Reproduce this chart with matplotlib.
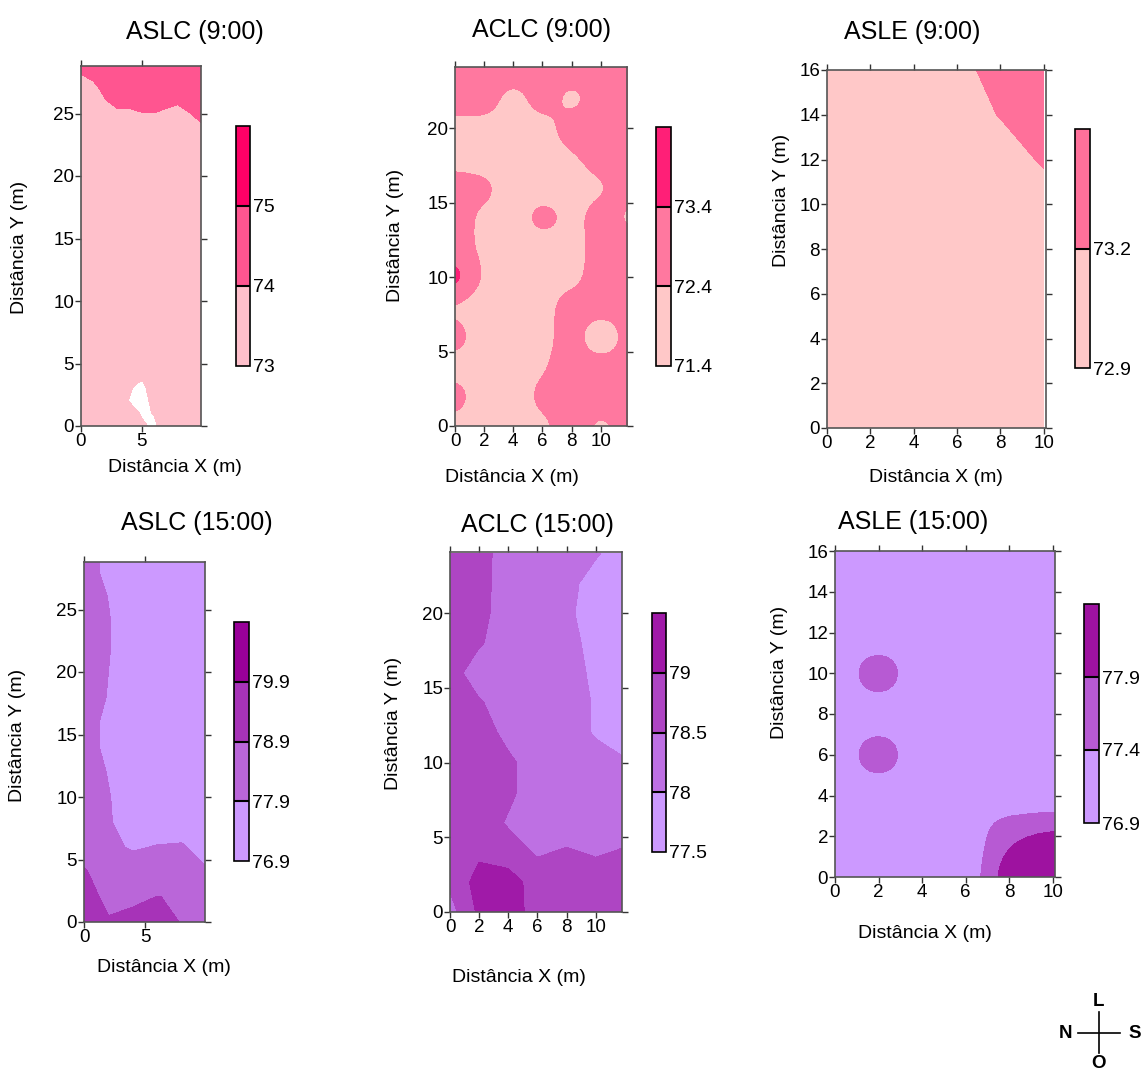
import numpy as np
import matplotlib
matplotlib.use("Agg")
import matplotlib.pyplot as plt
from matplotlib.colors import ListedColormap, BoundaryNorm
from matplotlib.cm import ScalarMappable
from matplotlib.lines import Line2D

plt.rcParams['font.family'] = ['Liberation Sans', 'DejaVu Sans']

# ---------------- data (grid values, rows from top to bottom) ----------------
# ASLC 9:00
aslc9_x = [0, 1, 2, 3, 4, 5, 6, 7, 8, 9, 10]
aslc9_y = [0, 1, 2, 3, 3.5, 4, 10, 20, 23, 24, 25, 26, 27, 28, 29]
aslc9_z = [
    [74.5, 74.5, 74.5, 74.5, 74.5, 74.5, 74.5, 74.5, 74.5, 74.5, 74.5],
    [73.88, 74.33, 74.5, 74.5, 74.5, 74.5, 74.5, 74.5, 74.5, 74.5, 74.5],
    [73.5, 73.5, 74.5, 74.5, 74.5, 74.5, 74.5, 74.5, 74.5, 74.5, 74.5],
    [73.5, 73.5, 73.88, 74.5, 74.5, 74.5, 74.5, 74.5, 74.21, 74.5, 74.5],
    [73.5, 73.5, 73.5, 73.67, 73.67, 73.94, 73.98, 73.67, 73.5, 73.98, 74.5],
    [73.5, 73.5, 73.5, 73.5, 73.5, 73.5, 73.5, 73.5, 73.5, 73.5, 73.88],
    [73.5, 73.5, 73.5, 73.5, 73.5, 73.5, 73.5, 73.5, 73.5, 73.5, 73.5],
    [73.5, 73.5, 73.5, 73.5, 73.5, 73.5, 73.5, 73.5, 73.5, 73.5, 73.5],
    [73.5, 73.5, 73.5, 73.5, 73.5, 73.5, 73.5, 73.5, 73.5, 73.5, 73.5],
    [73.5, 73.5, 73.5, 73.5, 73.5, 73.5, 73.5, 73.5, 73.5, 73.5, 73.5],
    [73.5, 73.5, 73.5, 73.5, 73.3, 72.9, 73.5, 73.5, 73.5, 73.5, 73.5],
    [73.5, 73.5, 73.5, 73.5, 73.1, 72.7, 73.5, 73.5, 73.5, 73.5, 73.5],
    [73.5, 73.5, 73.5, 73.5, 72.95, 72.8, 73.13, 73.5, 73.5, 73.5, 73.5],
    [73.5, 73.5, 73.5, 73.5, 73.5, 72.9, 73.02, 73.5, 73.5, 73.5, 73.5],
    [73.5, 73.5, 73.5, 73.5, 73.5, 73.2, 72.8, 73.5, 73.5, 73.5, 73.5],
]
aslc9_levels = [73, 74, 75, 76]
aslc9_ticks = ['73', '74', '75']

# ACLC 9:00 (2 m sampling grid)
aclc9_x = [0, 2, 4, 6, 8, 10, 12]
aclc9_y = [0, 2, 4, 6, 8, 10, 12, 14, 16, 18, 20, 22, 24]
aclc9_z = [
    [72.9, 72.9, 72.9, 72.9, 72.9, 72.9, 72.9],
    [72.9, 72.9, 72.0, 72.9, 71.99, 72.9, 72.9],
    [72.05, 72.1, 71.9, 72.05, 72.9, 72.9, 72.9],
    [72.1, 72.0, 71.9, 71.9, 72.3, 72.8, 72.9],
    [72.8, 72.7, 71.9, 71.9, 71.9, 72.25, 72.9],
    [72.8, 72.2, 71.9, 72.93, 72.1, 72.9, 72.1],
    [72.8, 72.2, 71.9, 71.9, 71.95, 72.9, 72.9],
    [74.05, 72.2, 71.9, 71.9, 72.1, 72.9, 72.9],
    [72.15, 71.9, 71.9, 72.1, 72.9, 72.9, 72.9],
    [72.87, 71.9, 71.9, 72.1, 72.9, 71.43, 72.9],
    [72.0, 71.9, 71.9, 72.3, 72.9, 72.9, 72.9],
    [72.87, 71.9, 71.9, 72.7, 72.9, 72.9, 72.9],
    [72.1, 71.9, 71.9, 72.2, 72.9, 72.1, 72.9],
]
aclc9_levels = [71.4, 72.4, 73.4, 74.4]
aclc9_ticks = ['71.4', '72.4', '73.4']

# ASLE 9:00
asle9_x = [0, 2, 4, 6, 8, 10]
asle9_y = [0, 2, 4, 6, 8, 10, 12, 14, 16]
asle9_z = [
    [73.0, 73.0, 73.0, 73.08, 73.35, 73.35],
    [73.0, 73.0, 73.0, 73.0, 73.22, 73.35],
    [73.0, 73.0, 73.0, 73.0, 73.0, 73.25],
    [73.0, 73.0, 73.0, 73.0, 73.0, 73.0],
    [73.0, 73.0, 73.0, 73.0, 73.0, 73.0],
    [73.0, 73.0, 73.0, 73.0, 73.0, 73.0],
    [73.0, 73.0, 73.0, 73.0, 73.0, 73.0],
    [73.0, 73.0, 73.0, 73.0, 73.0, 73.0],
    [73.0, 73.0, 73.0, 73.0, 73.0, 73.0],
]
asle9_levels = [72.9, 73.2, 73.5]
asle9_ticks = ['72.9', '73.2']

# ASLC 15:00
aslc15_x = [0, 2, 4, 6, 8, 10]
aslc15_y = [0, 2, 4, 6, 8, 10, 12, 14, 16, 18, 20, 22, 24, 26, 28, 30]
aslc15_z = [
    [78.4, 77.6, 77.4, 77.4, 77.4, 77.4],
    [78.4, 77.6, 77.4, 77.4, 77.4, 77.4],
    [78.4, 77.88, 77.4, 77.4, 77.4, 77.4],
    [78.4, 77.95, 77.4, 77.4, 77.4, 77.4],
    [78.4, 77.95, 77.4, 77.4, 77.4, 77.4],
    [78.4, 77.9, 77.4, 77.4, 77.4, 77.4],
    [78.4, 77.85, 77.4, 77.4, 77.4, 77.4],
    [78.4, 77.6, 77.4, 77.4, 77.4, 77.4],
    [78.4, 77.6, 77.4, 77.4, 77.4, 77.4],
    [78.4, 77.85, 77.4, 77.4, 77.4, 77.4],
    [78.4, 77.95, 77.4, 77.4, 77.4, 77.4],
    [78.4, 78.0, 77.4, 77.4, 77.4, 77.4],
    [78.4, 78.1, 77.8, 77.95, 78.0, 77.5],
    [79.0, 78.4, 78.4, 78.4, 78.3, 78.0],
    [79.4, 78.6, 78.7, 78.92, 78.8, 78.4],
    [79.5, 79.0, 79.2, 79.3, 78.85, 78.4],
]
aslc15_levels = [76.9, 77.9, 78.9, 79.9, 80.9]
aslc15_ticks = ['76.9', '77.9', '78.9', '79.9']

# ACLC 15:00
aclc15_x = [0, 2, 4, 6, 8, 10, 12]
aclc15_y = [0, 2, 4, 6, 8, 10, 12, 14, 16, 18, 20, 22, 24]
aclc15_z = [
    [78.75, 78.7, 78.25, 78.25, 78.25, 78.05, 77.75],
    [78.75, 78.68, 78.25, 78.25, 78.15, 77.8, 77.75],
    [78.75, 78.65, 78.25, 78.25, 78.1, 77.75, 77.75],
    [78.75, 78.55, 78.25, 78.25, 78.2, 77.8, 77.75],
    [78.7, 78.25, 78.25, 78.25, 78.2, 77.9, 77.75],
    [78.75, 78.55, 78.25, 78.25, 78.25, 77.95, 77.75],
    [78.75, 78.75, 78.35, 78.25, 78.25, 77.95, 77.75],
    [78.75, 78.75, 78.6, 78.25, 78.25, 78.2, 78.05],
    [78.75, 78.75, 78.6, 78.25, 78.25, 78.25, 78.25],
    [78.75, 78.75, 78.45, 78.25, 78.25, 78.25, 78.25],
    [78.75, 78.9, 78.7, 78.45, 78.55, 78.45, 78.55],
    [78.6, 79.2, 79.25, 78.75, 78.75, 78.75, 78.75],
    [78.3, 79.1, 79.3, 78.75, 78.75, 78.75, 78.75],
]
aclc15_levels = [77.5, 78.0, 78.5, 79.0, 79.5]
aclc15_ticks = ['77.5', '78', '78.5', '79']

# ASLE 15:00 (2 m sampling grid)
asle15_x = [0, 2, 4, 6, 8, 10]
asle15_y = [0, 2, 4, 6, 8, 10, 12, 14, 16]
asle15_z = [
    [77.15, 77.15, 77.15, 77.15, 77.15, 77.15],
    [77.15, 77.15, 77.15, 77.15, 77.15, 77.15],
    [77.15, 77.15, 77.15, 77.15, 77.15, 77.15],
    [77.15, 77.74, 77.15, 77.15, 77.15, 77.15],
    [77.15, 77.15, 77.15, 77.15, 77.15, 77.15],
    [77.15, 77.74, 77.15, 77.15, 77.15, 77.15],
    [77.15, 77.15, 77.15, 77.15, 76.95, 76.95],
    [77.15, 77.15, 77.15, 76.95, 77.9, 78.1],
    [77.15, 77.15, 77.15, 76.95, 78.3, 78.35],
]
asle15_levels = [76.9, 77.4, 77.9, 78.4]
asle15_ticks = ['76.9', '77.4', '77.9']

pink3 = ['#ffc0cb', '#ff5590', '#ff0066']
pink_aclc = ['#ffc8c8', '#ff789f', '#ff1f77']
pink_asle = ['#ffc8c8', '#ff709a']
purple_aslc = ['#cc99ff', '#ba66d9', '#a733b8', '#990099']
purple_aclc = ['#cc99ff', '#be70e3', '#ae45c3', '#a01aa8']
purple_asle = ['#cc99ff', '#b75ad3', '#9e12a0']

W, H = 1143, 1074
fig = plt.figure(figsize=(W / 100, H / 100), dpi=100)


def rect(x0, y0, x1, y1):
    return [x0 / W, 1 - y1 / H, (x1 - x0) / W, (y1 - y0) / H]


def panel(box, cbox, x, y, z, levels, colors, ticks, xlim, ylim, xt, yt, smooth,
          title, tpos, xlpos, ylpos):
    ax = fig.add_axes(rect(*box))
    Z = np.flipud(np.array(z, dtype=float))
    cmap = ListedColormap(colors)
    norm = BoundaryNorm(levels, len(colors))
    if smooth:
        # kriging-like look: let matplotlib resample the sampling grid with a gaussian
        # kernel (edges repeated so the borders are not pulled down)
        dx, dy = x[1] - x[0], y[1] - y[0]
        P = np.pad(Z, 2, mode='edge')
        ext = (x[0] - 2.5 * dx, x[-1] + 2.5 * dx, y[0] - 2.5 * dy, y[-1] + 2.5 * dy)
        ax.imshow(P, origin='lower', extent=ext, aspect='auto', cmap=cmap, norm=norm,
                  interpolation='gaussian', interpolation_stage='data')
    else:
        ax.contourf(x, y, Z, levels=levels, colors=colors)
    ax.set_xlim(xlim)
    ax.set_ylim(ylim)
    ax.set_xticks(xt)
    ax.set_yticks(yt)
    ax.tick_params(direction='out', length=4, width=1, labelsize=13.5, pad=1,
                   top=True, right=True, colors='#333333', labelcolor='black')
    for s in ax.spines.values():
        s.set_color('#555555')
        s.set_linewidth(1.2)

    cax = fig.add_axes(rect(*cbox))
    sm = ScalarMappable(norm=norm, cmap=cmap)
    cb = fig.colorbar(sm, cax=cax, ticks=levels[:-1], drawedges=True)
    cb.set_ticklabels(ticks)
    cb.minorticks_off()
    cb.ax.tick_params(which='both', length=0, labelsize=14, pad=2)
    cb.outline.set_linewidth(1.2)
    cb.dividers.set_linewidth(1.5)

    fig.text(tpos[0] / W, 1 - tpos[1] / H, title, fontsize=18, ha='center', va='center')
    fig.text(xlpos[0] / W, 1 - xlpos[1] / H, 'Distância X (m)', fontsize=14,
             ha='center', va='center')
    fig.text(ylpos[0] / W, 1 - ylpos[1] / H, 'Distância Y (m)', fontsize=14,
             ha='center', va='center', rotation=90)


panel((81, 66, 201, 426), (236, 126, 250, 366), aslc9_x, aslc9_y, aslc9_z,
      aslc9_levels, pink3, aslc9_ticks, (0, 9.9), (0, 28.8), [0, 5], [0, 5, 10, 15, 20, 25],
      False, 'ASLC (9:00)', (195, 32), (175, 468), (20, 247))
panel((455, 67, 627, 426), (656, 127, 671, 366), aclc9_x, aclc9_y, aclc9_z,
      aclc9_levels, pink_aclc, aclc9_ticks, (0, 11.8), (0, 24.1), [0, 2, 4, 6, 8, 10],
      [0, 5, 10, 15, 20], True, 'ACLC (9:00)', (542, 30), (512, 478), (395, 235))
panel((827, 70, 1046, 428), (1075, 129, 1090, 368), asle9_x, asle9_y, asle9_z,
      asle9_levels, pink_asle, asle9_ticks, (0, 10.1), (0, 16), [0, 2, 4, 6, 8, 10],
      [0, 2, 4, 6, 8, 10, 12, 14, 16], False, 'ASLE (9:00)', (912, 32), (936, 478), (782, 200))
panel((84, 562, 205, 922), (234, 622, 249, 861), aslc15_x, aslc15_y, aslc15_z,
      aslc15_levels, purple_aslc, aslc15_ticks, (0, 9.9), (0, 28.8), [0, 5],
      [0, 5, 10, 15, 20, 25], False, 'ASLC (15:00)', (197, 523), (164, 967), (18, 735))
panel((450, 552, 622, 912), (652, 613, 666, 852), aclc15_x, aclc15_y, aclc15_z,
      aclc15_levels, purple_aclc, aclc15_ticks, (0, 11.8), (0, 24.1), [0, 2, 4, 6, 8, 10],
      [0, 5, 10, 15, 20], False, 'ACLC (15:00)', (537, 525), (519, 977), (393, 723))
panel((835, 551, 1055, 877), (1084, 604, 1099, 823), asle15_x, asle15_y, asle15_z,
      asle15_levels, purple_asle, asle15_ticks, (0, 10.1), (0, 16), [0, 2, 4, 6, 8, 10],
      [0, 2, 4, 6, 8, 10, 12, 14, 16], True, 'ASLE (15:00)', (913, 522), (925, 933), (780, 672))

# compass
for lbl, px, py in [('L', 1098, 1002), ('N', 1065, 1033), ('S', 1135, 1033), ('O', 1099, 1064)]:
    fig.text(px / W, 1 - py / H, lbl, fontsize=13.5, fontweight='bold', ha='center', va='center')
fig.add_artist(Line2D([1078 / W, 1120 / W], [1 - 1033 / H, 1 - 1033 / H], color='black', lw=1.2))
fig.add_artist(Line2D([1099 / W, 1099 / W], [1 - 1012 / H, 1 - 1053 / H], color='black', lw=1.2))

fig.savefig('out.png', dpi=100)
